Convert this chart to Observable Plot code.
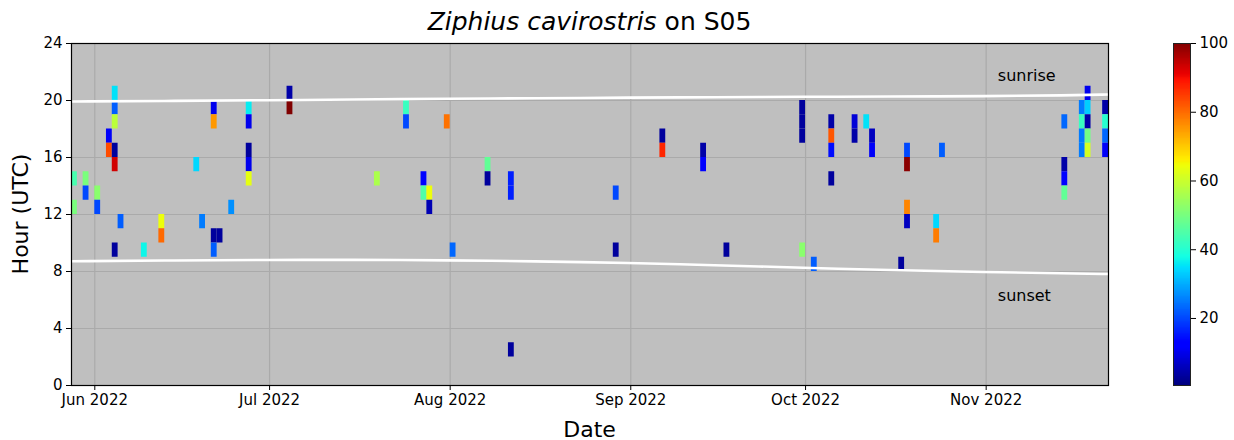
<!DOCTYPE html>
<html>
<head>
<meta charset="utf-8">
<script src="https://cdn.jsdelivr.net/npm/d3@7"></script>
<script src="https://cdn.jsdelivr.net/npm/@observablehq/plot@0.6"></script>
<style>
  html, body { margin: 0; padding: 0; background: #fff; }
  #wrap { position: relative; width: 1234px; height: 440px; font-family: "DejaVu Sans", sans-serif; color: #000; }
  #main { position: absolute; left: 0; top: 0; }
  #cbar { position: absolute; left: 1160px; top: 0; }
  #title { position: absolute; left: 0; width: 1179px; top: 7px; text-align: center; font-size: 25px; line-height: 30px; }
  #xl { position: absolute; left: 0; width: 1179px; top: 417px; text-align: center; font-size: 22px; line-height: 26px; }
  #yl { position: absolute; left: -49px; top: 201px; width: 140px; text-align: center; font-size: 22px; line-height: 26px; transform: rotate(-90deg); transform-origin: center; }
</style>
</head>
<body>
<div id="wrap">
  <div id="main"></div>
  <div id="cbar"></div>
  <div id="title"><i>Ziphius cavirostris</i> on S05</div>
  <div id="xl">Date</div>
  <div id="yl">Hour (UTC)</div>
</div>
<script>
// ---- detections (day, hour bin start, value 0-100) ----
const detDates = [
  "2022-05-28","2022-05-28",
  "2022-05-30","2022-05-30",
  "2022-06-01","2022-06-01",
  "2022-06-03","2022-06-03",
  "2022-06-04","2022-06-04","2022-06-04","2022-06-04","2022-06-04","2022-06-04",
  "2022-06-05",
  "2022-06-09",
  "2022-06-12","2022-06-12",
  "2022-06-18",
  "2022-06-19",
  "2022-06-21","2022-06-21","2022-06-21","2022-06-21",
  "2022-06-22",
  "2022-06-24",
  "2022-06-27","2022-06-27","2022-06-27","2022-06-27","2022-06-27",
  "2022-07-04","2022-07-04",
  "2022-07-19",
  "2022-07-24","2022-07-24",
  "2022-07-27","2022-07-27",
  "2022-07-28","2022-07-28",
  "2022-07-31",
  "2022-08-01",
  "2022-08-07","2022-08-07",
  "2022-08-11","2022-08-11","2022-08-11",
  "2022-08-29","2022-08-29",
  "2022-09-06","2022-09-06",
  "2022-09-13","2022-09-13",
  "2022-09-17",
  "2022-09-30","2022-09-30","2022-09-30","2022-09-30",
  "2022-10-02",
  "2022-10-05","2022-10-05","2022-10-05","2022-10-05",
  "2022-10-09","2022-10-09",
  "2022-10-11",
  "2022-10-12","2022-10-12",
  "2022-10-17",
  "2022-10-18","2022-10-18","2022-10-18","2022-10-18",
  "2022-10-23","2022-10-23",
  "2022-10-24",
  "2022-11-14","2022-11-14","2022-11-14","2022-11-14",
  "2022-11-17","2022-11-17","2022-11-17","2022-11-17",
  "2022-11-18","2022-11-18","2022-11-18","2022-11-18","2022-11-18",
  "2022-11-21","2022-11-21","2022-11-21","2022-11-21"
];
const detHours = [
  14,12,
  14,13,
  13,12,
  17,16,
  20,19,18,16,15,9,
  11,
  9,
  11,10,
  15,
  11,
  19,18,10,9,
  10,
  12,
  19,18,16,15,14,
  20,19,
  14,
  19,18,
  14,13,
  13,12,
  18,
  9,
  15,14,
  14,13,2,
  13,9,
  17,16,
  16,15,
  9,
  19,18,17,9,
  8,
  18,17,16,14,
  18,17,
  18,
  17,16,
  8,
  16,15,12,11,
  11,10,
  16,
  18,15,14,13,
  19,18,17,16,
  20,19,18,17,16,
  19,18,17,16
];
const detValues = [
  44,50,
  50,20,
  52,20,
  11,83,
  35,22,58,3,93,3,
  22,
  37,
  64,80,
  34,
  25,
  10,75,3,22,
  3,
  27,
  36,10,3,10,63,
  4,100,
  56,
  42,20,
  13,45,
  64,5,
  79,
  23,
  47,3,
  16,16,3,
  20,3,
  3,87,
  4,12,
  3,
  3,3,3,52,
  22,
  4,82,14,3,
  8,4,
  35,
  6,11,
  3,
  20,99,77,6,
  34,78,
  22,
  23,4,13,47,
  25,42,25,25,
  10,33,4,49,61,
  4,40,23,11
];

// ---- sun lines ----
const sunDates = ["2022-05-28","2022-06-15","2022-07-01","2022-07-15","2022-08-01","2022-08-15","2022-09-01","2022-09-15","2022-10-01","2022-10-15","2022-11-01","2022-11-15","2022-11-22"];
const sunriseHours = [19.93,19.97,20.02,20.07,20.12,20.16,20.2,20.23,20.26,20.28,20.3,20.36,20.42];
const sunsetHours  = [8.72,8.78,8.81,8.82,8.79,8.72,8.6,8.45,8.26,8.1,7.96,7.87,7.82];

// ---- annotations ----
const labelTexts = ["sunrise", "sunset"];
const labelDates = ["2022-11-03", "2022-11-03"];
const labelHours = [21.75, 6.3];

// ---- axes ----
const yTicks = [0, 4, 8, 12, 16, 20, 24];
const xDomain = ["2022-05-28", "2022-11-22"];
const cbarTicks = [20, 40, 60, 80, 100];
const cbarDomain = [0.5, 100];

// matplotlib "jet"
function seg(t, pts) {
  for (let i = 1; i < pts.length; i++) {
    if (t <= pts[i][0]) {
      const [x0, y0] = pts[i - 1], [x1, y1] = pts[i];
      return y0 + (y1 - y0) * (t - x0) / (x1 - x0);
    }
  }
  return pts[pts.length - 1][1];
}
function jet(t) {
  t = Math.max(0, Math.min(1, t));
  const r = seg(t, [[0,0],[0.35,0],[0.66,1],[0.89,1],[1,0.5]]);
  const g = seg(t, [[0,0],[0.125,0],[0.375,1],[0.64,1],[0.91,0],[1,0]]);
  const b = seg(t, [[0,0.5],[0.11,1],[0.34,1],[0.65,0],[1,0]]);
  return `rgb(${Math.round(r*255)},${Math.round(g*255)},${Math.round(b*255)})`;
}

const parse = d3.utcParse("%Y-%m-%d");
const cells = detDates.map((d, i) => {
  const day = parse(d);
  return { x1: day, x2: d3.utcDay.offset(day, 1), y1: detHours[i], y2: detHours[i] + 1, v: detValues[i] };
});
const sun = sunDates.map((d, i) => ({ date: parse(d), rise: sunriseHours[i], set: sunsetHours[i] }));
const labels = labelTexts.map((t, i) => ({ text: t, date: parse(labelDates[i]), hour: labelHours[i] }));
const months = d3.utcMonth.range(parse(xDomain[0]), parse(xDomain[1]));

const colorScale = { type: "linear", domain: cbarDomain, interpolate: jet };

const chart = Plot.plot({
  width: 1234,
  height: 440,
  marginLeft: 71,
  marginRight: 126,
  marginTop: 43,
  marginBottom: 55,
  style: { fontFamily: "DejaVu Sans, sans-serif", fontSize: "15px", background: "transparent", color: "#000" },
  x: { type: "utc", domain: xDomain.map(parse), label: null },
  y: { domain: [0, 24], label: null },
  color: colorScale,
  marks: [
    Plot.frame({ fill: "#bfbfbf" }),
    Plot.ruleX(months, { stroke: "#aaaaaa", strokeWidth: 1.2 }),
    Plot.ruleY(yTicks, { stroke: "#aaaaaa", strokeWidth: 1.2 }),
    Plot.rect(cells, { x1: "x1", x2: "x2", y1: "y1", y2: "y2", fill: "v", inset: 0 }),
    Plot.line(sun, { x: "date", y: "rise", stroke: "white", strokeWidth: 2.6, curve: "basis" }),
    Plot.line(sun, { x: "date", y: "set", stroke: "white", strokeWidth: 2.6, curve: "basis" }),
    Plot.text(labels, { x: "date", y: "hour", text: "text", textAnchor: "start", fontSize: 16, fill: "#000" }),
    Plot.frame({ stroke: "#000", strokeWidth: 1.2 }),
    Plot.axisX(months, { tickFormat: d3.utcFormat("%b %Y"), tickSize: 5, tickPadding: 4, fontSize: 15, label: null }),
    Plot.axisY(yTicks, { tickSize: 5, tickPadding: 4, fontSize: 15, label: null })
  ]
});
document.getElementById("main").appendChild(chart);

const steps = d3.range(cbarDomain[0], cbarDomain[1], 0.25).map(v => ({ v }));
const cbar = Plot.plot({
  width: 74,
  height: 440,
  marginLeft: 13,
  marginRight: 44,
  marginTop: 43,
  marginBottom: 55,
  style: { fontFamily: "DejaVu Sans, sans-serif", fontSize: "15px", background: "transparent", color: "#000" },
  x: { domain: [0, 1], axis: null },
  y: { domain: cbarDomain, label: null },
  color: colorScale,
  marks: [
    Plot.rect(steps, { x1: 0, x2: 1, y1: "v", y2: d => Math.min(d.v + 0.25, cbarDomain[1]), fill: "v", shapeRendering: "crispEdges" }),
    Plot.frame({ stroke: "#222", strokeWidth: 1 }),
    Plot.axisY(cbarTicks, { anchor: "right", tickSize: 5, tickPadding: 4, fontSize: 15, label: null })
  ]
});
document.getElementById("cbar").appendChild(cbar);
</script>
</body>
</html>
